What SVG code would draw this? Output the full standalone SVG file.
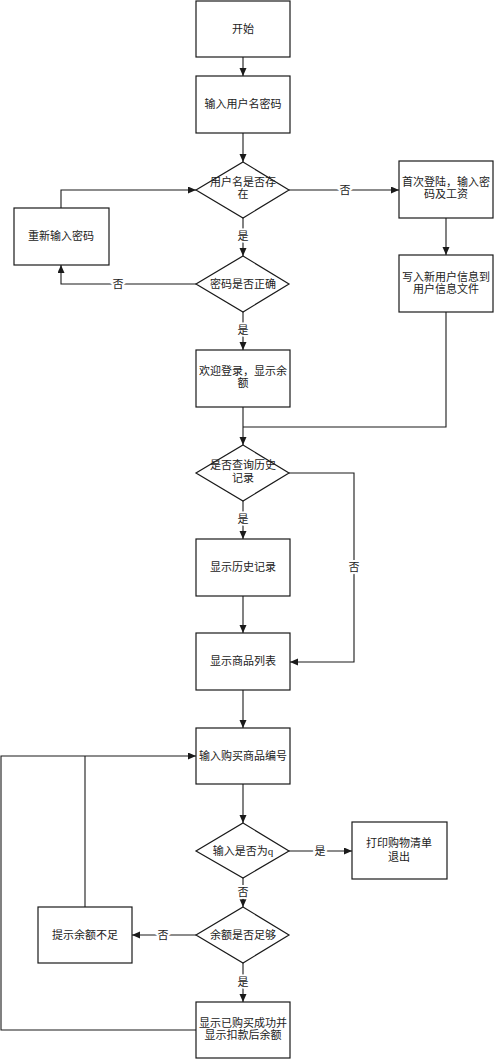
<svg xmlns="http://www.w3.org/2000/svg" width="494" height="1059" viewBox="0 0 494 1059">
<style>
.n{fill:#fff;stroke:#1a1a1a;stroke-width:1.2}
.t{font-family:"Liberation Serif","Noto Sans CJK SC",serif;font-size:11px;fill:#222;text-anchor:middle;dominant-baseline:central}
.c{fill:none;stroke:#1a1a1a;stroke-width:1.1}
.a{marker-end:url(#ah)}
.l{font-family:"Liberation Serif","Noto Sans CJK SC",serif;font-size:11px;fill:#222;text-anchor:middle;dominant-baseline:central;stroke:#fff;stroke-width:4;paint-order:stroke}
</style>
<defs>
<marker id="ah" markerUnits="userSpaceOnUse" markerWidth="9" markerHeight="8" refX="8" refY="3.5" orient="auto">
<path d="M0,0 L8,3.5 L0,7 z" fill="#1a1a1a"/>
</marker>
</defs>
<rect width="494" height="1059" fill="#fff"/>
<g id="connectors">
<path class="c a" d="M243,57 V76"/>
<path class="c a" d="M243,133 V162"/>
<path class="c a" d="M289,190 H399"/>
<path class="c a" d="M446,218 V255"/>
<path class="c a" d="M243,218 V256"/>
<path class="c a" d="M196,284 H61 V265"/>
<path class="c a" d="M61,208 V190 H196"/>
<path class="c a" d="M243,312 V350"/>
<path class="c a" d="M243,407 V445"/>
<path class="c" d="M446,312 V427 H243"/>
<path class="c a" d="M243,501 V539"/>
<path class="c a" d="M289,473 H354 V662 H290"/>
<path class="c a" d="M243,596 V633"/>
<path class="c a" d="M243,690 V728"/>
<path class="c a" d="M243,784 V823"/>
<path class="c a" d="M289,851 H352"/>
<path class="c a" d="M243,878 V907"/>
<path class="c a" d="M196,935 H132"/>
<path class="c a" d="M243,963 V1002"/>
<path class="c a" d="M196,1030 H1 V756 H196"/>
<path class="c" d="M85,907 V756"/>
<text class="l" x="345" y="190">否</text>
<text class="l" x="243" y="236">是</text>
<text class="l" x="118" y="284">否</text>
<text class="l" x="243" y="330">是</text>
<text class="l" x="243" y="519">是</text>
<text class="l" x="354" y="567">否</text>
<text class="l" x="320" y="851">是</text>
<text class="l" x="243" y="892">否</text>
<text class="l" x="163" y="935">否</text>
<text class="l" x="243" y="982">是</text>
</g>
<g id="start"><rect class="n" x="196" y="1" width="94" height="56"/><text class="t" x="243" y="29">开始</text></g>
<g id="input-user"><rect class="n" x="196" y="76" width="94" height="57"/><text class="t" x="243" y="104">输入用户名密码</text></g>
<g id="user-exists"><path class="n" d="M243,162 L289,190 L243,218 L196,190 Z"/><text class="t" x="243" y="182">用户名是否存</text><text class="t" x="243" y="194">在</text></g>
<g id="first-login"><rect class="n" x="399" y="161" width="94" height="57"/><text class="t" x="446" y="182">首次登陆，输入密</text><text class="t" x="446" y="194">码及工资</text></g>
<g id="write-user"><rect class="n" x="399" y="255" width="94" height="57"/><text class="t" x="446" y="277">写入新用户信息到</text><text class="t" x="446" y="289">用户信息文件</text></g>
<g id="reenter"><rect class="n" x="14" y="208" width="95" height="57"/><text class="t" x="61" y="236">重新输入密码</text></g>
<g id="pwd-correct"><path class="n" d="M243,256 L289,284 L243,312 L196,284 Z"/><text class="t" x="243" y="284">密码是否正确</text></g>
<g id="welcome"><rect class="n" x="196" y="350" width="94" height="57"/><text class="t" x="243" y="371">欢迎登录，显示余</text><text class="t" x="243" y="383">额</text></g>
<g id="query-history"><path class="n" d="M243,445 L289,473 L243,501 L196,473 Z"/><text class="t" x="243" y="465">是否查询历史</text><text class="t" x="243" y="478">记录</text></g>
<g id="show-history"><rect class="n" x="196" y="539" width="94" height="57"/><text class="t" x="243" y="567">显示历史记录</text></g>
<g id="show-goods"><rect class="n" x="196" y="633" width="94" height="57"/><text class="t" x="243" y="661">显示商品列表</text></g>
<g id="input-goods"><rect class="n" x="196" y="728" width="94" height="56"/><text class="t" x="243" y="756">输入购买商品编号</text></g>
<g id="is-q"><path class="n" d="M243,823 L289,851 L243,878 L196,851 Z"/><text class="t" x="243" y="851">输入是否为q</text></g>
<g id="print-exit"><rect class="n" x="352" y="822" width="95" height="57"/><text class="t" x="399" y="843">打印购物清单</text><text class="t" x="399" y="857">退出</text></g>
<g id="balance-enough"><path class="n" d="M243,907 L289,935 L243,963 L196,935 Z"/><text class="t" x="243" y="935">余额是否足够</text></g>
<g id="insufficient"><rect class="n" x="38" y="907" width="94" height="56"/><text class="t" x="85" y="935">提示余额不足</text></g>
<g id="success"><rect class="n" x="196" y="1002" width="94" height="56"/><text class="t" x="243" y="1023">显示已购买成功并</text><text class="t" x="243" y="1035">显示扣款后余额</text></g>
</svg>
